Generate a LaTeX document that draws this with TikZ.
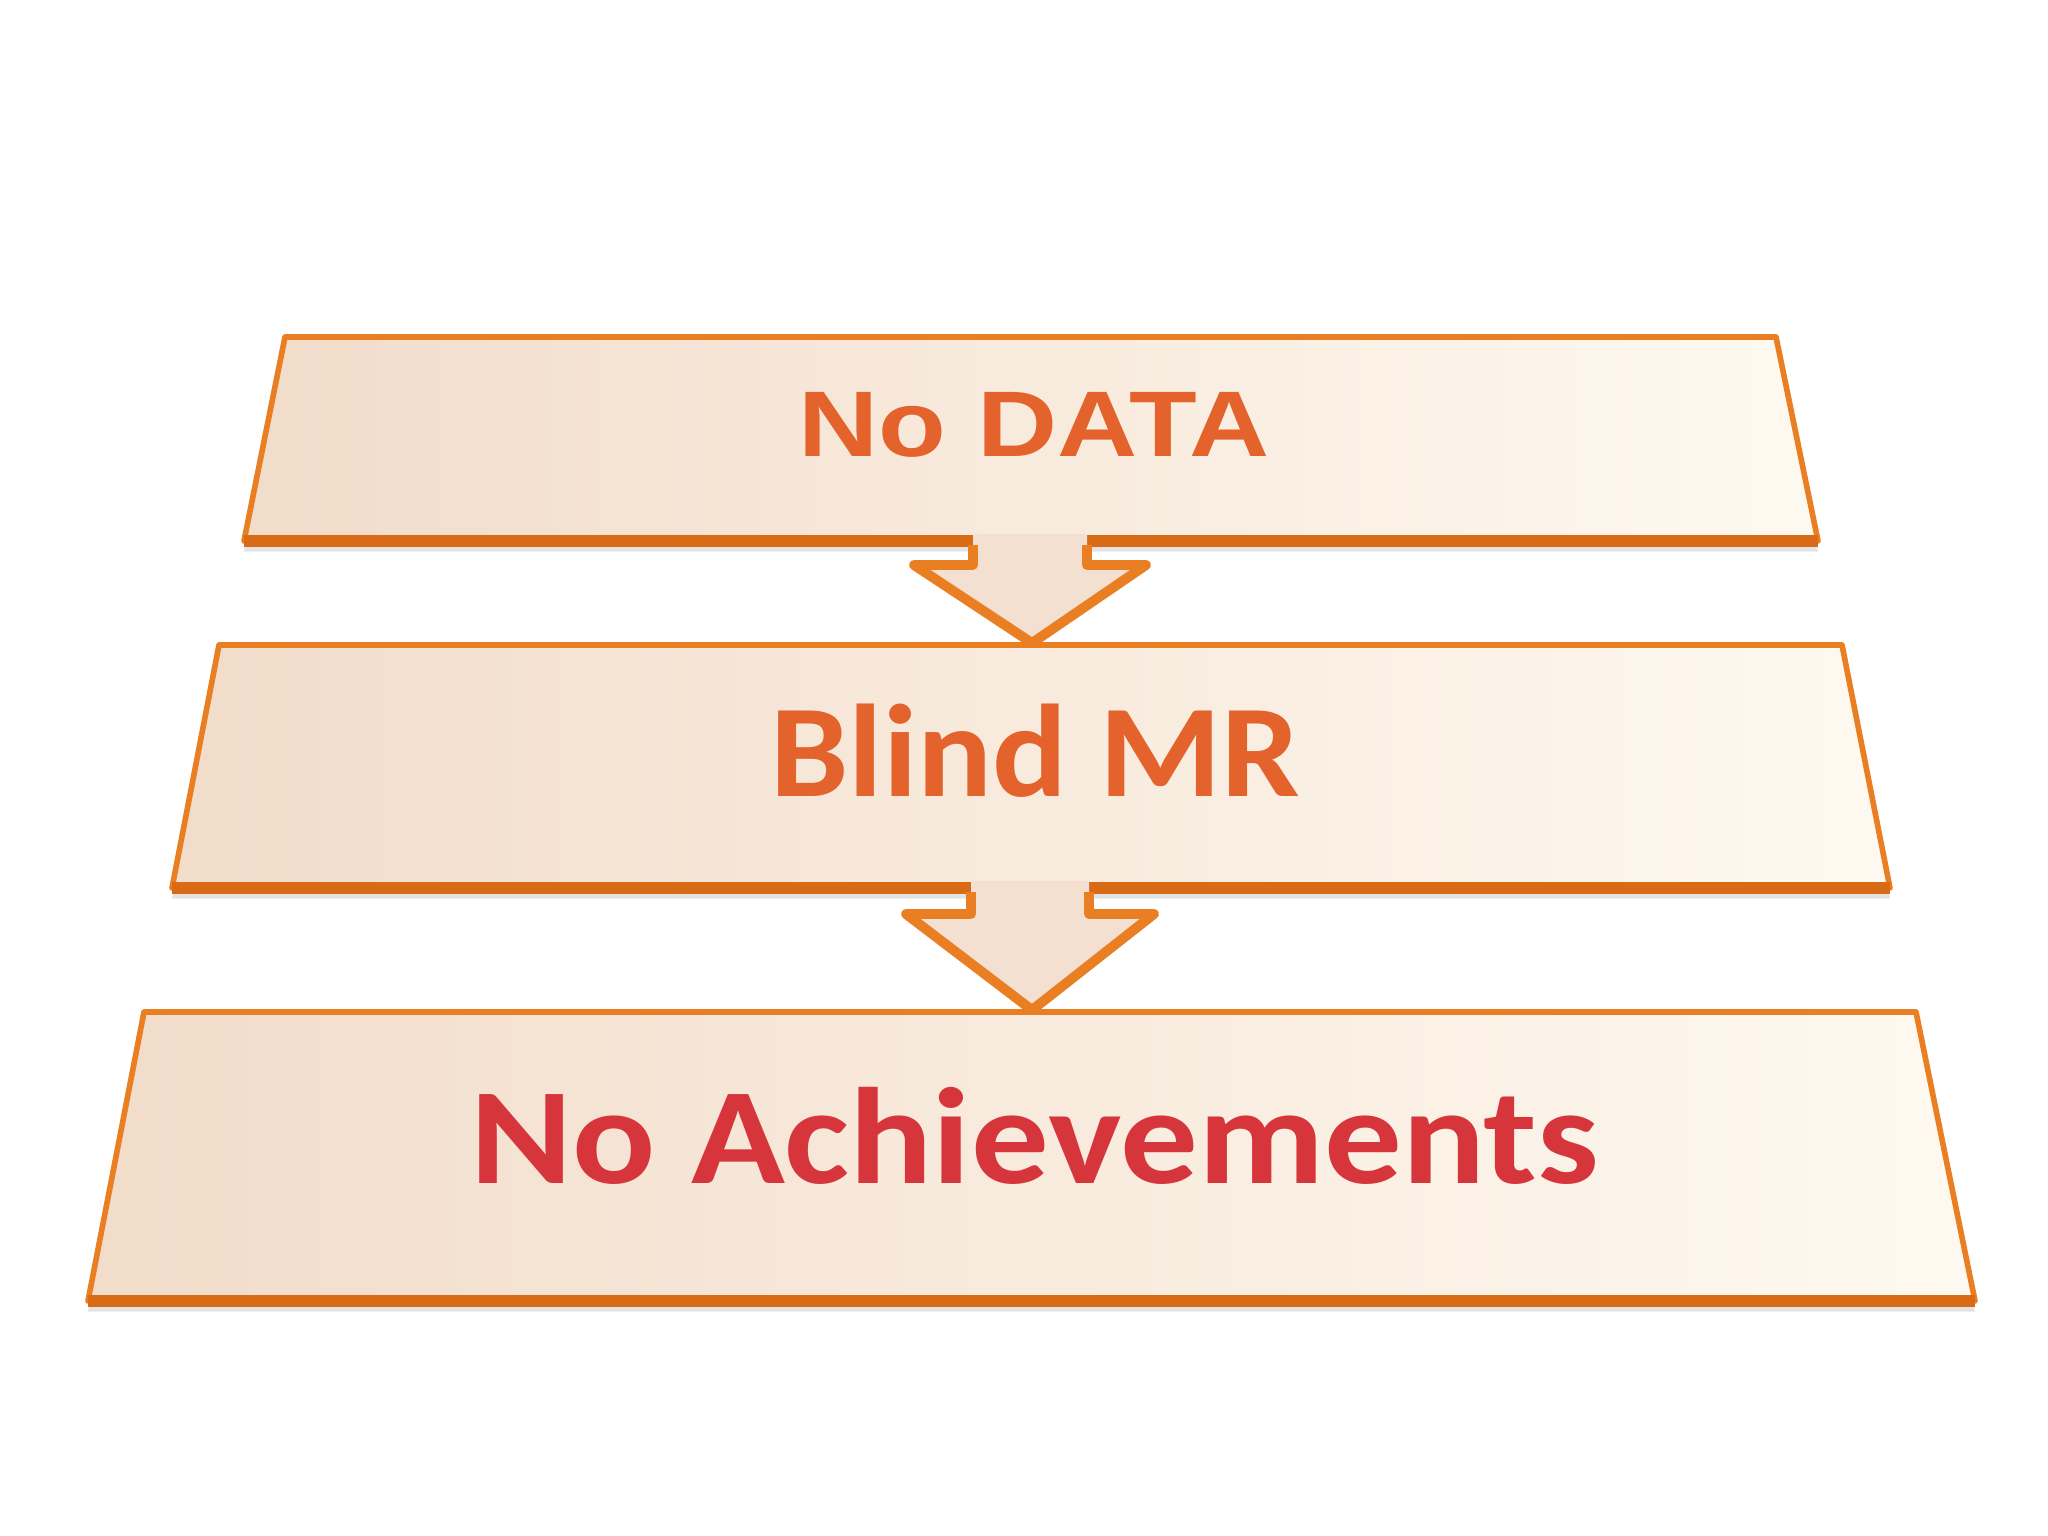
\documentclass[tikz,border=0pt]{standalone}
\usepackage{fontspec}
\setmainfont{Carlito}
\newfontfamily\arialfont{Liberation Sans}
\usetikzlibrary{calc,shadows}

\definecolor{panelL}{HTML}{F2DCCA}
\definecolor{panelR}{HTML}{FEF9F0}
\definecolor{edge}{HTML}{E97F22}
\definecolor{edgeDark}{HTML}{D96A16}
\definecolor{txtOrange}{HTML}{E4622C}
\definecolor{txtRed}{HTML}{D6363B}

\begin{document}
\begin{tikzpicture}[x=.01cm, y=-.01cm, line join=round,
    panel/.style={draw=edge, line width=1.6pt, left color=panelL, right color=panelR,
      drop shadow={shadow xshift=0pt, shadow yshift=-3pt, opacity=.22}},
    base/.style={draw=edgeDark, line width=3.4pt},
    arrowbody/.style={fill=panelL!85!panelR},
    arrowedge/.style={draw=edge, line width=2.8pt},
    title/.style={font=\bfseries\fontsize{#1}{#1}\selectfont, anchor=base}]
    \useasboundingbox[fill=white] (0,0) rectangle (2048,1536);
    % three panels
    \path[panel] (285,337) -- (1776,337) -- (1818,541) -- (244,541) -- cycle;
    \draw[base] (244,541) -- (1818,541);
    \path[panel] (219,645) -- (1842,645) -- (1890,888) -- (172,888) -- cycle;
    \draw[base] (172,888) -- (1890,888);
    \path[panel] (144,1012) -- (1916,1012) -- (1975,1301) -- (88,1301) -- cycle;
    \draw[base] (88,1301) -- (1975,1301);
    \coordinate (b1) at (1030,541);
    \coordinate (t1) at (1032,643);
    \coordinate (b2) at (1030,888);
    \coordinate (t2) at (1032,1010);
    % arrows between panels
    \path[arrowbody] ($(b1)+(-57,-7)$) -- ($(b1)+(-57,24)$) -- ($(b1)+(-116,24)$) -- (t1)
      -- ($(b1)+(116,24)$) -- ($(b1)+(57,24)$) -- ($(b1)+(57,-7)$) -- cycle;
    \draw[arrowedge] ($(b1)+(-57,4)$) -- ($(b1)+(-57,24)$) -- ($(b1)+(-116,24)$) -- (t1)
      -- ($(b1)+(116,24)$) -- ($(b1)+(57,24)$) -- ($(b1)+(57,4)$);
    \path[arrowbody] ($(b2)+(-59,-7)$) -- ($(b2)+(-59,26)$) -- ($(b2)+(-124,26)$) -- (t2)
      -- ($(b2)+(124,26)$) -- ($(b2)+(59,26)$) -- ($(b2)+(59,-7)$) -- cycle;
    \draw[arrowedge] ($(b2)+(-59,4)$) -- ($(b2)+(-59,26)$) -- ($(b2)+(-124,26)$) -- (t2)
      -- ($(b2)+(124,26)$) -- ($(b2)+(59,26)$) -- ($(b2)+(59,4)$);
    % labels
    \node[title=26.5, text=txtOrange] (data) at (1034,456) {\arialfont\scalebox{1.19}[1]{No DATA}};
    \node[title=37.5, text=txtOrange] (blind) at (1035,796) {\scalebox{1.06}[1]{Blind MR}};
    \node[title=39, text=txtRed] (ach) at (1035,1183) {\scalebox{1.13}[1]{No Achievements}};
  \end{tikzpicture}
\end{document}
